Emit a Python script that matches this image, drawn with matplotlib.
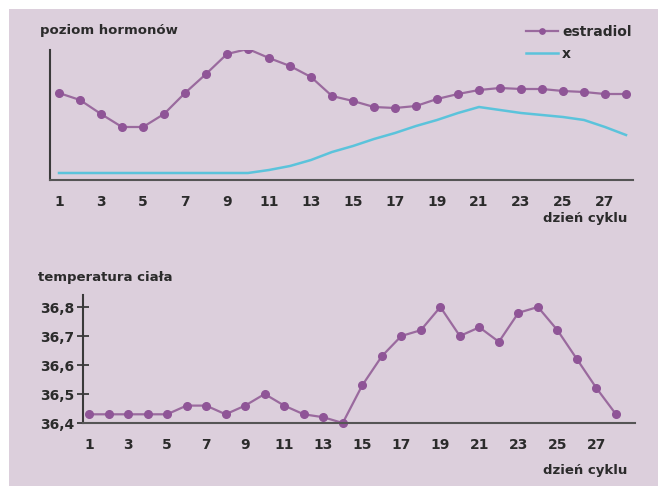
import matplotlib.pyplot as plt
import matplotlib.patches as patches

days = list(range(1, 29))
estradiol = [87, 80, 66, 53, 53, 66, 87, 106, 126, 131, 122, 114, 103, 84,
             79, 73, 72, 74, 81, 86, 90, 92, 91, 91, 89, 88, 86, 86]
hormone_x = [7, 7, 7, 7, 7, 7, 7, 7, 7, 7, 10, 14, 20, 28,
             34, 41, 47, 54, 60, 67, 73, 70, 67, 65, 63, 60, 53, 45]
temperature = [36.43, 36.43, 36.43, 36.43, 36.43, 36.46, 36.46, 36.43, 36.46, 36.50,
               36.46, 36.43, 36.42, 36.40, 36.53, 36.63, 36.70, 36.72, 36.80, 36.70,
               36.73, 36.68, 36.78, 36.80, 36.72, 36.62, 36.52, 36.43]
xticks = list(range(1, 28, 2))
temp_ticks = [36.4, 36.5, 36.6, 36.7, 36.8]
temp_labels = ['36,4', '36,5', '36,6', '36,7', '36,8']

bg = '#dccfdc'
purple = '#9a6a9e'
dot = '#8f5597'
cyan = '#5bc3db'
dark = '#2b2b2b'

W, H = 658, 486
fig = plt.figure(figsize=(W / 100, H / 100), dpi=100)
fig.patches.append(patches.Rectangle((9 / W, 0), 1, 1 - 9 / H, transform=fig.transFigure,
                                     facecolor=bg, edgecolor='none', zorder=-10))

def px_axes(left, top, right, bottom):
    return fig.add_axes([left / W, 1 - bottom / H, (right - left) / W, (bottom - top) / H])

# top chart: hormone levels
ax1 = px_axes(50, 50, 633, 180)
ax1.patch.set_visible(False)
l1, = ax1.plot(days, estradiol, color=purple, lw=1.6, marker='o', ms=5.5,
               markerfacecolor=dot, markeredgecolor=dot, label='estradiol')
l2, = ax1.plot(days, hormone_x, color=cyan, lw=1.8, label='x')
ax1.set_xlim(1 - 9 / 21, 28 + 7 / 21)
ax1.set_ylim(0, 130)
ax1.set_xticks(xticks)
ax1.set_yticks([])
ax1.tick_params(axis='x', length=0, pad=11, labelsize=10, labelcolor=dark)
for s in ['top', 'right']:
    ax1.spines[s].set_visible(False)
ax1.spines['left'].set_color('#3a3a3a')
ax1.spines['bottom'].set_color('#555555')
ax1.spines['left'].set_linewidth(1.5)
ax1.spines['bottom'].set_linewidth(1.5)
for t in ax1.get_xticklabels():
    t.set_fontweight('bold')
fig.text(40 / W, 1 - 30 / H, 'poziom hormonów', fontsize=9.5, fontweight='bold',
         color=dark, va='center')
fig.text(627 / W, 1 - 218 / H, 'dzień cyklu', fontsize=9.5, fontweight='bold',
         color=dark, va='center', ha='right')
leg = fig.legend(handles=[l1, l2], loc='upper right', bbox_to_anchor=(644 / W, 1 - 12 / H),
                 frameon=False, handlelength=2.3, handletextpad=0.3, labelspacing=0.6,
                 markerscale=0.7, prop={'weight': 'bold', 'size': 10})
for t in leg.get_texts():
    t.set_color(dark)

# bottom chart: body temperature
ax2 = px_axes(83, 295, 635, 423)
ax2.patch.set_visible(False)
ax2.plot(days, temperature, color=purple, lw=1.6, marker='o', ms=5.5,
         markerfacecolor=dot, markeredgecolor=dot, clip_on=False)
ax2.set_xlim(1 - 6 / 19.52, 28 + 19 / 19.52)
ax2.set_ylim(36.4, 36.4 + 128 / 290)
ax2.set_xticks(xticks)
ax2.set_yticks(temp_ticks)
ax2.set_yticklabels(temp_labels)
ax2.tick_params(axis='x', length=0, pad=11, labelsize=10, labelcolor=dark)
ax2.tick_params(axis='y', direction='inout', length=9, width=1.3, color='#3a3a3a',
                pad=2, labelsize=10, labelcolor=dark)
for s in ['top', 'right']:
    ax2.spines[s].set_visible(False)
ax2.spines['left'].set_color('#3a3a3a')
ax2.spines['bottom'].set_color('#555555')
ax2.spines['left'].set_linewidth(1.5)
ax2.spines['bottom'].set_linewidth(1.5)
for t in ax2.get_xticklabels() + ax2.get_yticklabels():
    t.set_fontweight('bold')
fig.text(38 / W, 1 - 277 / H, 'temperatura ciała', fontsize=9.5, fontweight='bold',
         color=dark, va='center')
fig.text(627 / W, 1 - 470 / H, 'dzień cyklu', fontsize=9.5, fontweight='bold',
         color=dark, va='center', ha='right')

fig.savefig('out.png', dpi=100)
